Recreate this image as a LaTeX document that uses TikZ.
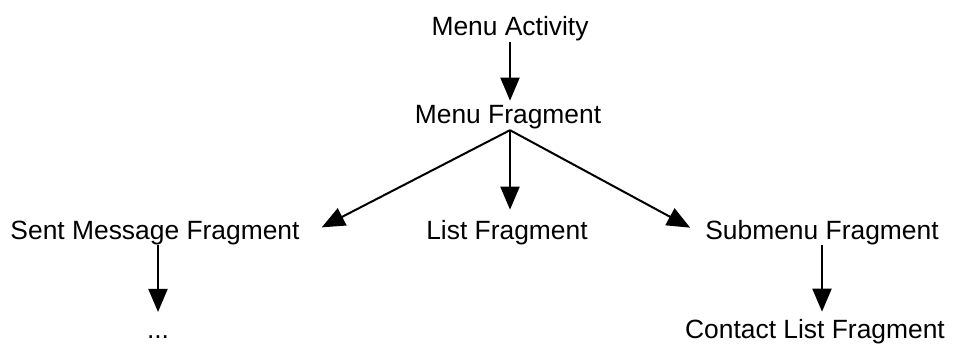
\documentclass[tikz,border=0pt]{standalone}
\usepackage{fontspec}
\setmainfont{Liberation Sans}
\usetikzlibrary{arrows.meta}
\begin{document}
\begin{tikzpicture}[x=1pt,y=-1pt,
  lbl/.style={inner sep=0pt, anchor=base, font=\fontsize{26.4}{30}\selectfont},
  arr/.style={line width=2pt, -{Triangle[length=23pt,width=19pt]}}]
\useasboundingbox (0,0) rectangle (957,343);
% hierarchy labels
\node[lbl] (ma)   at (510,35)  {Menu Activity};
\node[lbl] (mf)   at (508,123) {Menu Fragment};
\node[lbl] (smf)  at (155,239) {Sent Message Fragment};
\node[lbl] (lf)   at (507,239) {List Fragment};
\node[lbl] (sub)  at (822,239) {Submenu Fragment};
\node[lbl] (dots) at (158,338) {...};
\node[lbl] (clf)  at (815,338) {Contact List Fragment};
% fork point under Menu Fragment
\coordinate (fork) at ([xshift=2pt,yshift=-1.5pt]mf.south);
% connectors
\draw[arr] ([yshift=-1.5pt]ma.south) -- ([yshift=4pt]ma.south |- mf.north);
\draw[arr] (fork) -- ([xshift=22pt,yshift=-7pt]smf.north east);
\draw[arr] (fork) -- ([yshift=10pt]fork |- lf.north);
\draw[arr] (fork) -- ([xshift=-15pt,yshift=-8pt]sub.north west);
\draw[arr] (smf.south -| dots.north) -- ([yshift=23pt]dots.north);
\draw[arr] (sub.south) -- ([yshift=7pt]sub.south |- clf.north);
\end{tikzpicture}
\end{document}
